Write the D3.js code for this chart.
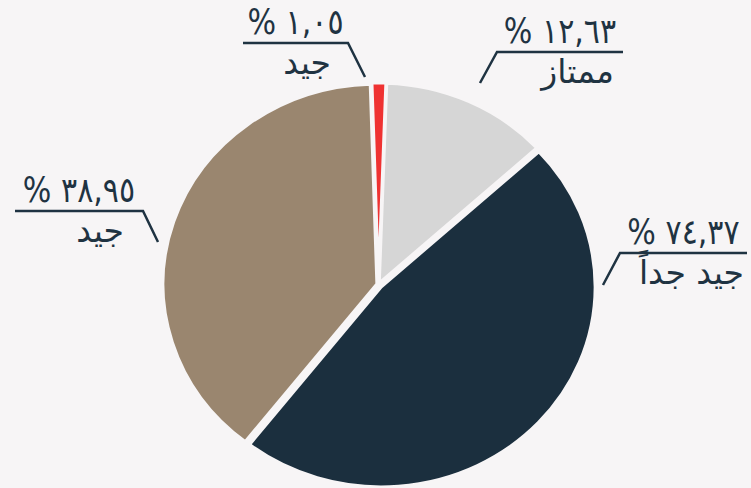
<!DOCTYPE html>
<html>
<head>
<meta charset="utf-8">
<script src="https://cdn.jsdelivr.net/npm/d3@7"></script>
<style>
  html, body { margin: 0; padding: 0; background: #f7f5f6; }
  svg { display: block; }
  text { font-family: "DejaVu Sans", sans-serif; fill: #1f3342; }
</style>
</head>
<body>
<div id="chart"></div>
<script>
// data
const categories = ["ممتاز", "جيد جداً", "جيد", "جيد"];
const values = [12.63, 47.37, 38.95, 1.05];
const pctLabels = ["١٢,٦٣", "٧٤,٣٧", "٣٨,٩٥", "١,٠٥"];
const colors = ["#d6d6d6", "#1b2f3e", "#9a866f", "#ef3232"];

const width = 751, height = 488;
const cx = 378.5, cy = 284.5, R = 200, sx = 1.07;
const bg = "#f7f5f6";

// label placement: leader start, elbow, underline end, x of name text
const labelLayout = [
  { a: [480, 83], e: [497, 52], end: 623, nameX: 614 },
  { a: [603, 285], e: [620, 253], end: 747, nameX: 744 },
  { a: [158, 242], e: [143, 211], end: 15, nameX: 124 },
  { a: [365, 77], e: [348, 43], end: 243, nameX: 331 }
];
const explode = [1.5, 3.5, 1.5, 1.5];

const svg = d3.select('#chart')
  .append('svg')
  .attr('width', width)
  .attr('height', height)
  .style('background-color', bg);

const start = 2 * Math.PI / 180;
const pie = d3.pie()
  .sort(null)
  .startAngle(start)
  .endAngle(start + 2 * Math.PI)
  .value(d => d);

const arc = d3.arc().innerRadius(0).outerRadius(R);

const g = svg.append('g')
  .attr('transform', 'translate(' + cx + ',' + cy + ') scale(' + sx + ',1)');

g.selectAll('path')
  .data(pie(values))
  .enter()
  .append('path')
  .attr('d', arc)
  .attr('fill', (d, i) => colors[i])
  .attr('stroke', bg)
  .attr('stroke-width', 3)
  .attr('stroke-linejoin', 'round')
  .attr('transform', (d, i) => {
    const mid = (d.startAngle + d.endAngle) / 2;
    return 'translate(' + (Math.sin(mid) * explode[i]) + ',' + (-Math.cos(mid) * explode[i]) + ')';
  });

// labels
const labels = svg.selectAll('g.label')
  .data(labelLayout)
  .enter()
  .append('g')
  .attr('class', 'label');

labels.append('path')
  .attr('d', d => d3.line()([d.a, d.e, [d.end, d.e[1]]]))
  .attr('fill', 'none')
  .attr('stroke', '#1f3342')
  .attr('stroke-width', 2.5);

const tx = 0.86; // the reference lettering is narrower than DejaVu
labels.append('text')
  .attr('transform', d => 'translate(' + ((d.e[0] + d.end) / 2) + ',' + (d.e[1] - 9) + ') scale(' + tx + ',1)')
  .attr('text-anchor', 'middle')
  .attr('font-size', 35)
  .text((d, i) => '% ' + pctLabels[i]);

labels.append('text')
  .attr('x', d => d.nameX)
  .attr('y', d => d.e[1] + 31)
  .attr('text-anchor', 'end')
  .attr('direction', 'ltr')
  .attr('font-size', 33)
  .text((d, i) => categories[i]);
</script>
</body>
</html>
